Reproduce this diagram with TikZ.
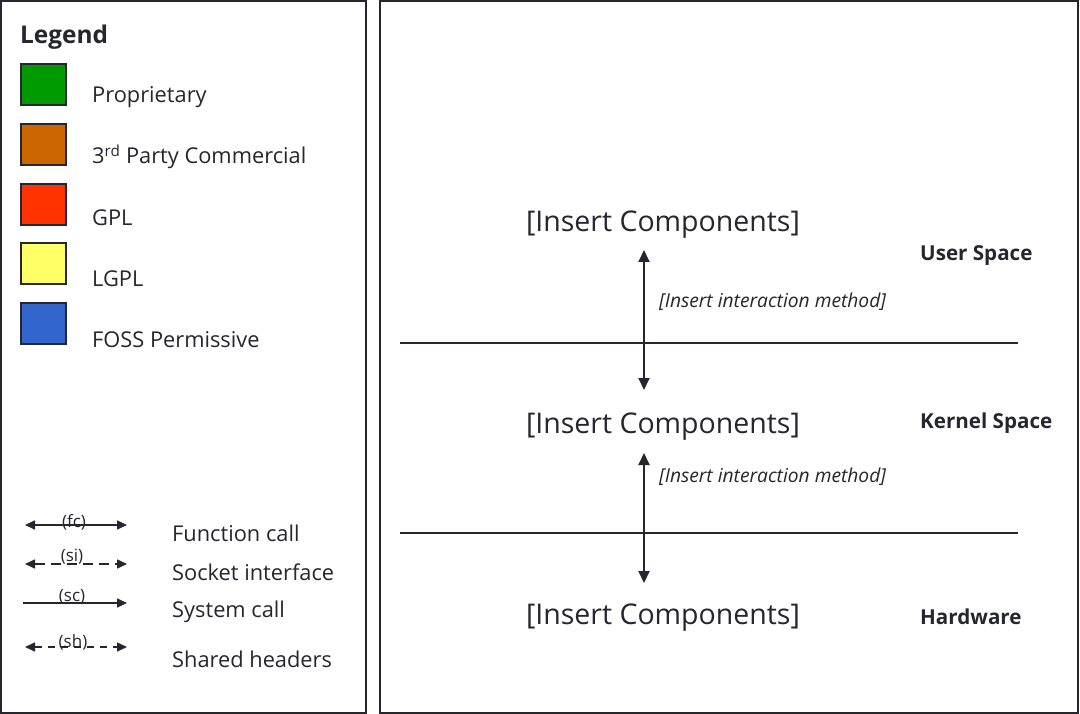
\documentclass[tikz,border=0pt]{standalone}
\usepackage{fontspec}
\setmainfont{Open Sans}
\usetikzlibrary{arrows.meta}
\definecolor{ink}{HTML}{262630}
\definecolor{cgreen}{HTML}{009900}
\definecolor{corange}{HTML}{CC6600}
\definecolor{cred}{HTML}{FF3300}
\definecolor{cyellow}{HTML}{FFFF66}
\definecolor{cblue}{HTML}{3366CC}
\tikzset{
  panel/.style={draw=ink, line width=2pt},
  swatch/.style={draw=ink, line width=2pt, minimum width=45pt, minimum height=41pt, inner sep=0pt},
  legtext/.style={anchor=west, inner sep=0pt, text=ink, font=\fontsize{21.8}{26}\selectfont},
  comp/.style={inner sep=0pt, text=ink, font=\fontsize{28.5}{34}\selectfont},
  method/.style={anchor=west, inner sep=0pt, text=ink, font=\fontsize{19.2}{23}\selectfont\itshape},
  space/.style={anchor=west, inner sep=0pt, text=ink, font=\fontsize{20.6}{25}\selectfont\bfseries},
  tag/.style={inner sep=0pt, text=ink, font=\fontsize{17}{20}\selectfont},
  bigarrow/.style={draw=ink, line width=2pt, {Triangle[length=12pt,width=11pt]}-{Triangle[length=12pt,width=11pt]}},
  legarrow/.style={draw=ink, line width=1.6pt},
  dashpat/.style={dash pattern=on 10pt off 6pt},
  layer/.style={draw=ink, line width=2pt}
}
\begin{document}
\begin{tikzpicture}[x=1pt,y=-1pt]
\useasboundingbox (0,0) rectangle (1080,714);
\fill[white] (0,0) rectangle (1080,714);
% panels
\draw[panel] (1,1) rectangle (366,713);
\draw[panel] (380,1) rectangle (1078,713);
% legend
\node[anchor=west, inner sep=0pt, text=ink, font=\fontsize{24.4}{29}\selectfont\bfseries] (legend) at (20,37) {Legend};
\node[swatch, fill=cgreen]  (s1) at (43,85) {};
\node[swatch, fill=corange] (s2) at (43,145) {};
\node[swatch, fill=cred]    (s3) at (43,205) {};
\node[swatch, fill=cyellow] (s4) at (43,264) {};
\node[swatch, fill=cblue]   (s5) at (43,324) {};
\node[legtext] (l1) at (92,97) {Proprietary};
\node[legtext] (l2) at (92,157) {3\textsuperscript{rd} Party Commercial};
\node[legtext] (l3) at (92,218) {GPL};
\node[legtext] (l4) at (92,279) {LGPL};
\node[legtext] (l5) at (92,340) {FOSS Permissive};
% connector legend
\coordinate (fa) at (25,525); \coordinate (fb) at (127,525);
\coordinate (ia) at (25,564); \coordinate (ib) at (127,564);
\coordinate (ca) at (23,603); \coordinate (cb) at (127,603);
\coordinate (ha) at (25,647); \coordinate (hb) at (127,647);
\draw[legarrow, {Triangle[length=10pt,width=9pt]}-{Triangle[length=10pt,width=9pt]}] (fa) -- (fb);
\draw[legarrow, dashpat, {Triangle[length=10pt,width=9pt]}-{Triangle[length=10pt,width=9pt]}] (ia) -- (ib);
\draw[legarrow, -{Triangle[length=10pt,width=9pt]}] (ca) -- (cb);
\draw[legarrow, dash pattern=on 7pt off 6pt, {Triangle[length=10pt,width=9pt]}-{Triangle[length=10pt,width=9pt]}] (ha) -- (hb);
\node[tag] (tfc) at (74,522) {(fc)};
\node[tag] (tsi) at (72,557) {(si)};
\node[tag] (tsc) at (72,597) {(sc)};
\node[tag] (tsh) at (73,642) {(sh)};
\node[legtext] (lf) at (172,533) {Function call};
\node[legtext] (li) at (172,572) {Socket interface};
\node[legtext] (lc) at (172,612) {System call};
\node[legtext] (lh) at (172,659) {Shared headers};
% main diagram
\node[comp] (c1) at (663,225) {[Insert Components]};
\node[comp] (c2) at (663,427) {[Insert Components]};
\node[comp] (c3) at (663,618) {[Insert Components]};
\coordinate (u1) at (400,343); \coordinate (u2) at (1018,343);
\coordinate (k1) at (400,533); \coordinate (k2) at (1018,533);
\draw[layer] (u1) -- (u2);
\draw[layer] (k1) -- (k2);
\coordinate (a1) at (644,250); \coordinate (a2) at (644,390);
\coordinate (b1) at (644,453); \coordinate (b2) at (644,583);
\draw[bigarrow] (a1) -- (a2);
\draw[bigarrow] (b1) -- (b2);
\node[method] (m1) at (659,302) {[Insert interaction method]};
\node[method] (m2) at (659,477) {[Insert interaction method]};
\node[space] (us) at (920,256) {User Space};
\node[space] (ks) at (920,423) {Kernel Space};
\node[space] (hw) at (920,617) {Hardware};
\end{tikzpicture}
\end{document}
